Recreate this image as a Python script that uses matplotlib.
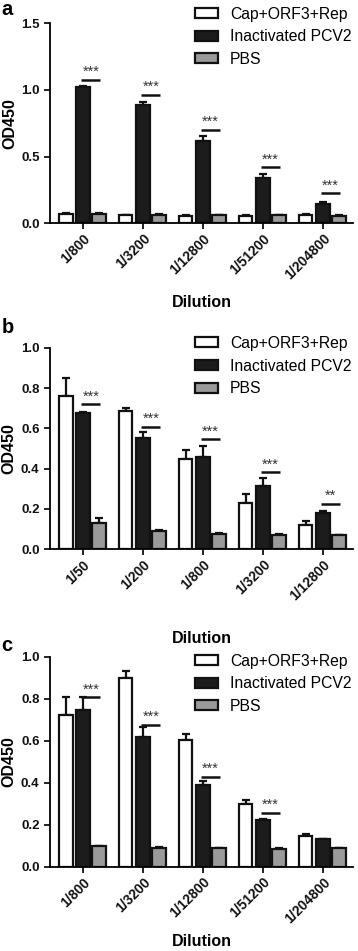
import matplotlib

matplotlib.use("Agg")
import matplotlib.pyplot as plt
import numpy as np
from matplotlib.patches import Patch

plt.rcParams["font.family"] = ["Liberation Sans", "DejaVu Sans"]

SERIES = ["Cap+ORF3+Rep", "Inactivated PCV2", "PBS"]
FACE = ["white", "#1c1c1c", "#9a9a9a"]

# panel a
DIL_A = ["1/800", "1/3200", "1/12800", "1/51200", "1/204800"]
CAP_A = [0.07, 0.06, 0.058, 0.058, 0.062]
CAP_A_ERR = [0.006, 0.004, 0.003, 0.003, 0.004]
INACT_A = [1.02, 0.89, 0.615, 0.34, 0.148]
INACT_A_ERR = [0.006, 0.022, 0.04, 0.03, 0.014]
PBS_A = [0.07, 0.063, 0.06, 0.06, 0.058]
PBS_A_ERR = [0.004, 0.003, 0.003, 0.003, 0.003]
SIG_A = ["***", "***", "***", "***", "***"]
SIG_A_Y = [1.075, 0.965, 0.70, 0.42, 0.225]

# panel b
DIL_B = ["1/50", "1/200", "1/800", "1/3200", "1/12800"]
CAP_B = [0.76, 0.685, 0.448, 0.232, 0.122]
CAP_B_ERR = [0.09, 0.016, 0.045, 0.043, 0.02]
INACT_B = [0.678, 0.553, 0.458, 0.316, 0.18]
INACT_B_ERR = [0.003, 0.027, 0.055, 0.04, 0.008]
PBS_B = [0.13, 0.09, 0.076, 0.072, 0.07]
PBS_B_ERR = [0.025, 0.007, 0.003, 0.003, 0.003]
SIG_B = ["***", "***", "***", "***", "**"]
SIG_B_Y = [0.72, 0.608, 0.546, 0.382, 0.225]

# panel c
DIL_C = ["1/800", "1/3200", "1/12800", "1/51200", "1/204800"]
CAP_C = [0.725, 0.898, 0.602, 0.298, 0.145]
CAP_C_ERR = [0.082, 0.032, 0.03, 0.02, 0.012]
INACT_C = [0.748, 0.62, 0.388, 0.222, 0.13]
INACT_C_ERR = [0.06, 0.047, 0.022, 0.007, 0.002]
PBS_C = [0.098, 0.09, 0.088, 0.085, 0.088]
PBS_C_ERR = [0.003, 0.003, 0.003, 0.003, 0.003]
SIG_C = ["***", "***", "***", "***"]
SIG_C_Y = [0.807, 0.675, 0.427, 0.257]

OFFSETS = [-0.29, 0.0, 0.27]
WIDTH = 0.23


def draw_panel(ax, dil, means, errs, sigs, sig_y, ymax, yticks, xpad):
    x = np.arange(len(dil))
    for i, (m, e) in enumerate(zip(means, errs)):
        ax.bar(x + OFFSETS[i], m, WIDTH, color=FACE[i], edgecolor="#111111",
               linewidth=1.6, zorder=2)
        ax.errorbar(x + OFFSETS[i], m, yerr=[np.zeros(len(e)), e], fmt="none",
                    ecolor="#111111", elinewidth=1.6, capsize=2.8,
                    capthick=1.6, zorder=1)
    for j, (s, y) in enumerate(zip(sigs, sig_y)):
        ax.plot([j - 0.03, j + 0.29], [y, y], color="#111111", lw=1.8,
                solid_capstyle="butt", zorder=3)
        ax.text(j + 0.13, y + ymax * 0.004, s, ha="center", va="bottom",
                fontsize=10.5, color="#333333")
    ax.set_xlim(-0.55, 4.5)
    ax.set_ylim(0, ymax)
    ax.set_yticks(yticks)
    ax.set_yticklabels([f"{t:.1f}" for t in yticks], fontweight="bold")
    ax.set_xticks(x)
    ax.set_xticklabels(dil, rotation=45, ha="right", rotation_mode="anchor",
                       fontweight="bold")
    for side in ["top", "right"]:
        ax.spines[side].set_visible(False)
    for side in ["left", "bottom"]:
        ax.spines[side].set_linewidth(1.3)
    ax.tick_params(axis="both", width=1.3, length=4, colors="#111111")
    ax.tick_params(axis="y", labelsize=9.5)
    ax.tick_params(axis="x", labelsize=10, pad=2)
    ax.set_ylabel("OD450", fontsize=11.5, fontweight="bold", labelpad=3)
    ax.set_xlabel("Dilution", fontsize=11.5, fontweight="bold", labelpad=xpad)


fig = plt.figure(figsize=(3.58, 9.51), dpi=100)
ax_a = fig.add_axes([0.1397, 0.7652, 0.846, 0.2103])
ax_b = fig.add_axes([0.1397, 0.4224, 0.846, 0.2120])
ax_c = fig.add_axes([0.1397, 0.0886, 0.846, 0.2208])

draw_panel(ax_a, DIL_A, [CAP_A, INACT_A, PBS_A], [CAP_A_ERR, INACT_A_ERR, PBS_A_ERR],
           SIG_A, SIG_A_Y, 1.5, [0.0, 0.5, 1.0, 1.5], 9)
draw_panel(ax_b, DIL_B, [CAP_B, INACT_B, PBS_B], [CAP_B_ERR, INACT_B_ERR, PBS_B_ERR],
           SIG_B, SIG_B_Y, 1.0, [0.0, 0.2, 0.4, 0.6, 0.8, 1.0], 20)
draw_panel(ax_c, DIL_C, [CAP_C, INACT_C, PBS_C], [CAP_C_ERR, INACT_C_ERR, PBS_C_ERR],
           SIG_C, SIG_C_Y, 1.0, [0.0, 0.2, 0.4, 0.6, 0.8, 1.0], 6)

handles = [Patch(facecolor=FACE[i], edgecolor="#111111", linewidth=1.6)
           for i in range(3)]
for ytop in [0.996, 0.650, 0.316]:
    fig.legend(handles, SERIES, loc="upper left", bbox_to_anchor=(0.535, ytop),
               frameon=False, fontsize=11.3, handlelength=1.5, handleheight=0.6,
               handletextpad=0.75, labelspacing=0.48, borderpad=0.2,
               borderaxespad=0)

for letter, ytop in [("a", 1.0), ("b", 0.666), ("c", 0.331)]:
    fig.text(0.004, ytop, letter, fontsize=14.5, fontweight="bold", va="top")

fig.savefig("out.png", dpi=100)
